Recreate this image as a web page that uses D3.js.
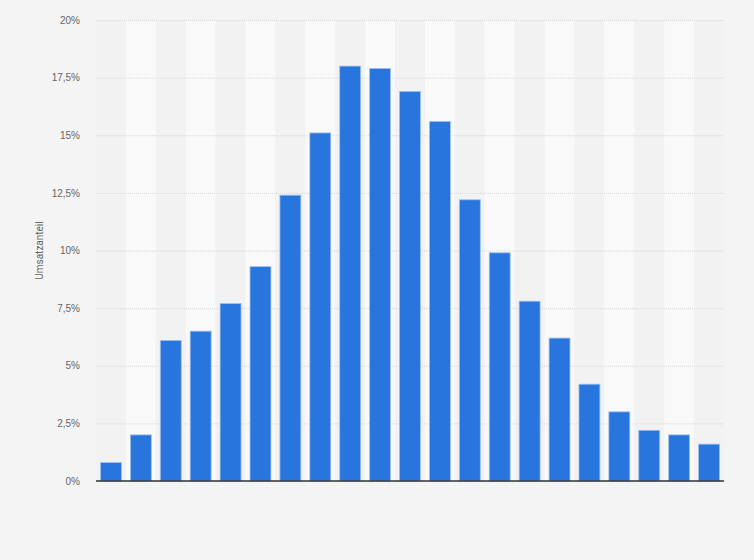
<!DOCTYPE html>
<html>
<head>
<meta charset="utf-8">
<script src="https://cdn.jsdelivr.net/npm/d3@7"></script>
<style>
  body { margin: 0; background: #f4f4f4; }
  svg { display: block; font-family: Roboto, "Noto Sans", sans-serif; }
</style>
</head>
<body>
<svg id="chart" width="754" height="560"></svg>
<script>
// bar slots (no labels shown in the source)
const categories = d3.range(1, 22).map(String);
const shares = [0.8, 2.0, 6.1, 6.5, 7.7, 9.3, 12.4, 15.1, 18.0, 17.9, 16.9,
  15.6, 12.2, 9.9, 7.8, 6.2, 4.2, 3.0, 2.2, 2.0, 1.6];
const yTicks = [0, 2.5, 5, 7.5, 10, 12.5, 15, 17.5, 20];
const yTitle = "Umsatzanteil";

const width = 754, height = 560;
const margin = { top: 20, right: 30, bottom: 79, left: 96 };
const innerW = width - margin.left - margin.right,
  innerH = height - margin.top - margin.bottom;

const svg = d3.select("#chart");
svg.append("rect").attr("width", width).attr("height", height).attr("fill", "#f4f4f4");

const g = svg.append("g").attr("transform", `translate(${margin.left},${margin.top})`);

const x = d3.scaleBand()
  .domain(categories)
  .range([0, innerW])
  .paddingInner(0.3)
  .paddingOuter(0.15);

const y = d3.scaleLinear()
  .domain([0, 20])
  .range([innerH, 0]);

// alternating column bands
const step = x.step();
g.selectAll(".band")
  .data(categories)
  .enter().append("rect")
  .attr("class", "band")
  .attr("x", d => x(d) - x.bandwidth() * 0 - step * x.paddingInner() / 2)
  .attr("y", 0)
  .attr("width", step)
  .attr("height", innerH)
  .attr("fill", (d, i) => i % 2 ? "#f9f9f9" : "#f2f2f2");

// grid + y labels
const fmt = v => String(v).replace(".", ",") + "%";
const yAxis = g.append("g")
  .call(d3.axisLeft(y).tickValues(yTicks).tickSize(-innerW).tickFormat(fmt));
yAxis.select(".domain").remove();
yAxis.selectAll(".tick line")
  .attr("stroke", "#d8d8d8")
  .attr("stroke-dasharray", "1,1");
yAxis.selectAll(".tick text")
  .attr("x", -16)
  .attr("fill", "#666")
  .style("font-size", "10px");

g.selectAll(".bar")
  .data(shares)
  .enter().append("rect")
  .attr("class", "bar")
  .attr("x", (d, i) => x(categories[i]))
  .attr("y", d => y(d))
  .attr("width", x.bandwidth())
  .attr("height", d => innerH - y(d))
  .attr("fill", "#2876dd")
  .attr("stroke", "#9ec0ee")
  .attr("stroke-width", 0.8);

// baseline
g.append("line")
  .attr("x1", 0).attr("x2", innerW)
  .attr("y1", y(0)).attr("y2", y(0))
  .attr("stroke", "#333")
  .attr("stroke-width", 1.5);

svg.append("text")
  .attr("transform", `translate(43,${margin.top + innerH / 2}) rotate(-90)`)
  .attr("text-anchor", "middle")
  .attr("fill", "#666")
  .style("font-size", "10px")
  .text(yTitle);
</script>
</body>
</html>
